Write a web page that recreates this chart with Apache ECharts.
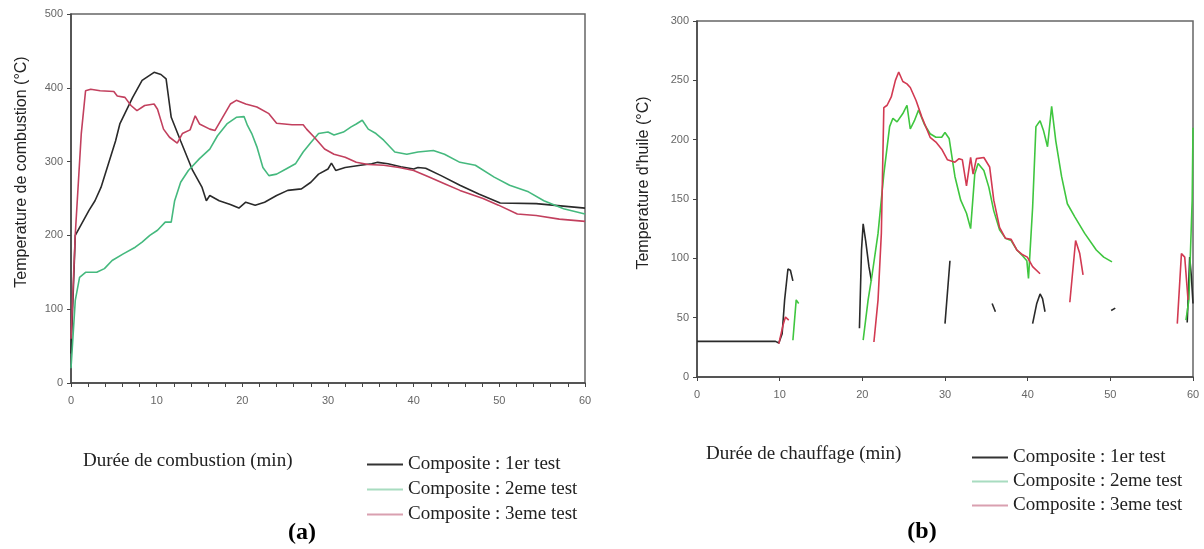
<!DOCTYPE html>
<html>
<head>
<meta charset="utf-8">
<script src="https://cdn.jsdelivr.net/npm/echarts@6/dist/echarts.min.js"></script>
<style>
html,body{margin:0;padding:0;background:#fff;}
#chart{width:1204px;height:549px;}
</style>
</head>
<body>
<div id="chart"></div>
<script>
// ---- Data ----
const seriesNames = ['Composite : 1er test', 'Composite : 2eme test', 'Composite : 3eme test'];
const xTicks = [0, 10, 20, 30, 40, 50, 60];
const yTicksA = [0, 100, 200, 300, 400, 500];
const yTicksB = [0, 50, 100, 150, 200, 250, 300];

// (a) combustion temperature vs time (min)
const a_test1 = [[0,40],[0.5,200],[2.1,234],[2.8,247],[3.5,265],[5.2,328],[5.7,351],[7.2,387],[8.3,410],[9.7,421],[10.5,418],[11.1,412],[11.7,360],[12.8,328],[14.2,288],[15.3,265],[15.8,247],[16.2,254],[17.3,247],[18.6,242],[19.6,237],[20.4,245],[21.5,241],[22.6,245],[24.0,254],[25.3,261],[26.9,263],[28,272],[28.9,283],[30,290],[30.4,298],[30.9,288],[32,292],[33.8,295],[35.1,297],[35.8,299],[37,297],[38.5,293],[40,290],[40.5,292],[41.4,291],[43.2,281],[45.4,268],[47.6,256],[50.1,244],[54.3,243],[60,237]];
const a_test2 = [[0,20],[0.5,112],[1.0,143],[1.7,150],[3.0,150],[3.9,155],[4.8,166],[6.1,175],[7.5,184],[8.3,191],[9.2,200],[10.1,207],[11.0,218],[11.7,218],[12.1,247],[12.8,272],[13.7,288],[15.0,304],[16.2,317],[17.1,335],[18.2,351],[19.3,360],[20.2,361],[20.6,349],[21.1,338],[21.7,320],[22.4,292],[23.1,281],[24.0,283],[25.1,290],[26.2,297],[27.1,313],[28,326],[28.9,338],[30,340],[30.7,336],[31.8,340],[32.7,347],[33.3,351],[34.0,356],[34.7,344],[35.6,338],[36.5,329],[37.8,313],[39.2,310],[40.5,313],[42.3,315],[43.6,310],[45.4,299],[47.2,295],[49.4,279],[51.2,268],[53.4,259],[55.2,247],[57.5,236],[60,229]];
const a_test3 = [[0,60],[0.5,202],[1.2,338],[1.7,396],[2.3,398],[3.4,396],[5.0,395],[5.4,389],[6.3,387],[7.0,376],[7.7,369],[8.6,376],[9.7,378],[10.1,371],[10.8,344],[11.5,333],[12.4,325],[13.0,338],[13.9,343],[14.5,362],[15.0,351],[16.2,344],[16.8,342],[17.7,360],[18.6,378],[19.3,383],[20.4,378],[21.7,374],[23.1,365],[24,352],[25.8,350],[27.1,350],[27.5,344],[28.4,333],[29.6,317],[30.7,310],[32,306],[33.3,299],[34.7,296],[36.5,295],[38.3,292],[40,288],[41.8,279],[43.6,270],[45.4,261],[48.1,250],[49.9,241],[52.1,229],[54.3,227],[57,222],[60,219]];

// (b) oil temperature vs heating time (min); null = gap in the record
const b_test1 = [[0,30],[9.5,30],[9.9,28.6],[10.3,36.5],[10.6,65],[11.0,91],[11.3,90],[11.6,81],null,[19.65,41],[19.9,107],[20.1,129],[20.4,115],[20.8,93],[21.1,81],null,[30.0,45],[30.6,98],null,[35.7,62],[36.1,55],null,[40.6,45],[41.1,62],[41.5,70],[41.8,66],[42.1,55],null,[50.1,56],[50.6,58],null,[59.3,46],[59.6,101],[59.8,85],[60,62]];
const b_test2 = [[11.6,31],[12.0,65],[12.3,62],null,[20.1,31],[20.7,65],[21.2,87],[21.9,121],[22.6,171],[23.3,211],[23.7,218],[24.2,215],[24.9,222],[25.4,229],[25.8,209],[26.3,216],[26.8,225],[27.5,213],[28.2,205],[28.9,202],[29.6,202],[30.0,206],[30.5,201],[31.2,169],[31.9,149],[32.6,138],[33.1,125],[33.6,171],[34.0,180],[34.7,174],[35.3,160],[35.9,140],[36.6,124],[37.3,117],[38.0,115],[38.7,107],[39.4,102],[39.9,98],[40.1,83],[40.6,143],[41.0,211],[41.5,216],[41.9,208],[42.4,194],[42.9,228],[43.4,199],[44.1,169],[44.8,146],[45.7,135],[46.9,121],[48.3,107],[49.2,101],[50.2,97],null,[59.15,48],[59.5,65],[59.9,149],[60,210]];
const b_test3 = [[9.9,28],[10.4,43.5],[10.7,50.5],[11.1,48],null,[21.4,29.5],[21.9,65],[22.3,121],[22.6,227],[23.0,229],[23.5,236],[24.0,250],[24.4,257],[24.9,249],[25.4,247],[25.8,244],[26.5,233],[27.2,219],[28.2,202],[28.9,198],[29.6,192],[30.3,183],[31.2,181],[31.7,184],[32.1,183],[32.6,161],[33.1,185],[33.4,171],[33.8,184],[34.7,185],[35.4,177],[35.9,149],[36.6,126],[37.3,117],[38.0,116],[38.7,107],[39.4,103],[39.96,101],[40.6,93],[41.5,87],null,[45.1,63],[45.8,115],[46.3,104],[46.7,86],null,[58.1,45],[58.6,104],[59.0,101],[59.4,65]];

// ---- Styling ----
const colorsA = ['#2a2a2a', '#45b97e', '#c2405e'];
const colorsB = ['#2a2a2a', '#3fc63f', '#d23a52'];
const legendColors = ['#333333', '#a8dcc0', '#d9a0b0'];
const tickFont = {color: '#666', fontSize: 11, fontFamily: 'Liberation Sans, Arial, sans-serif'};
const serif = 'Liberation Serif, Times New Roman, serif';

function withGaps(arr){ return arr.map(p => p === null ? '-' : p); }

function xAxis(gridIndex, minorCount){
  return {
    type: 'value', gridIndex, min: xTicks[0], max: xTicks[xTicks.length-1], interval: 10,
    axisLine: {show: true, lineStyle: {color: '#444', width: 1.5}},
    axisTick: {show: true, length: 4, lineStyle: {color: '#444'}},
    minorTick: {show: minorCount > 0, splitNumber: minorCount || 5, length: 4, lineStyle: {color: '#444'}},
    axisLabel: Object.assign({margin: 12}, tickFont),
    splitLine: {show: false}
  };
}
function yAxis(gridIndex, ticks){
  return {
    type: 'value', gridIndex, min: ticks[0], max: ticks[ticks.length-1], interval: ticks[1]-ticks[0],
    axisLine: {show: true, lineStyle: {color: '#444', width: 1.5}},
    axisTick: {show: true, length: 4, lineStyle: {color: '#444'}},
    axisLabel: Object.assign({margin: 8}, tickFont),
    splitLine: {show: false}
  };
}
function lineSeries(name, data, color, xi, yi){
  return {
    name, type: 'line', xAxisIndex: xi, yAxisIndex: yi, data: withGaps(data),
    showSymbol: false, connectNulls: false, animation: false,
    lineStyle: {color, width: 1.6}, itemStyle: {color}
  };
}
function legend(left, top, gap){
  return {
    orient: 'vertical', left, top, icon: 'rect', itemWidth: 36, itemHeight: 2, itemGap: gap,
    textStyle: {fontFamily: serif, fontSize: 19, color: '#222'},
    data: seriesNames.map((n, i) => ({name: n, itemStyle: {color: legendColors[i]}}))
  };
}

const chart = echarts.init(document.getElementById('chart'), null, {renderer: 'canvas'});
chart.setOption({
  backgroundColor: '#fff',
  animation: false,
  grid: [
    {left: 71, top: 14, width: 514, height: 369, show: true, borderColor: '#666', borderWidth: 1.5},
    {left: 697, top: 21, width: 496, height: 356, show: true, borderColor: '#666', borderWidth: 1.5}
  ],
  xAxis: [xAxis(0, 5), xAxis(1, 0)],
  yAxis: [yAxis(0, yTicksA), yAxis(1, yTicksB)],
  legend: [legend(362, 450, 6), legend(967, 443, 5)],
  series: [
    lineSeries(seriesNames[0], a_test1, colorsA[0], 0, 0),
    lineSeries(seriesNames[1], a_test2, colorsA[1], 0, 0),
    lineSeries(seriesNames[2], a_test3, colorsA[2], 0, 0),
    lineSeries(seriesNames[0], b_test1, colorsB[0], 1, 1),
    lineSeries(seriesNames[1], b_test2, colorsB[1], 1, 1),
    lineSeries(seriesNames[2], b_test3, colorsB[2], 1, 1)
  ],
  graphic: [
    {type: 'text', x: 22, y: 172, rotation: Math.PI/2,
     style: {text: 'Temperature de combustion (°C)', font: '16px Liberation Sans, Arial, sans-serif', fill: '#222', align: 'center', verticalAlign: 'middle'}},
    {type: 'text', x: 644, y: 183, rotation: Math.PI/2,
     style: {text: "Temperature d'huile (°C)", font: '16px Liberation Sans, Arial, sans-serif', fill: '#222', align: 'center', verticalAlign: 'middle'}},
    {type: 'text', x: 83, y: 461,
     style: {text: 'Durée de combustion (min)', font: '19px ' + serif, fill: '#222', align: 'left', verticalAlign: 'middle'}},
    {type: 'text', x: 706, y: 454,
     style: {text: 'Durée de chauffage (min)', font: '19px ' + serif, fill: '#222', align: 'left', verticalAlign: 'middle'}},
    {type: 'text', x: 302, y: 533,
     style: {text: '(a)', font: 'bold 24px ' + serif, fill: '#000', align: 'center', verticalAlign: 'middle'}},
    {type: 'text', x: 922, y: 532,
     style: {text: '(b)', font: 'bold 24px ' + serif, fill: '#000', align: 'center', verticalAlign: 'middle'}}
  ]
});
</script>
</body>
</html>
